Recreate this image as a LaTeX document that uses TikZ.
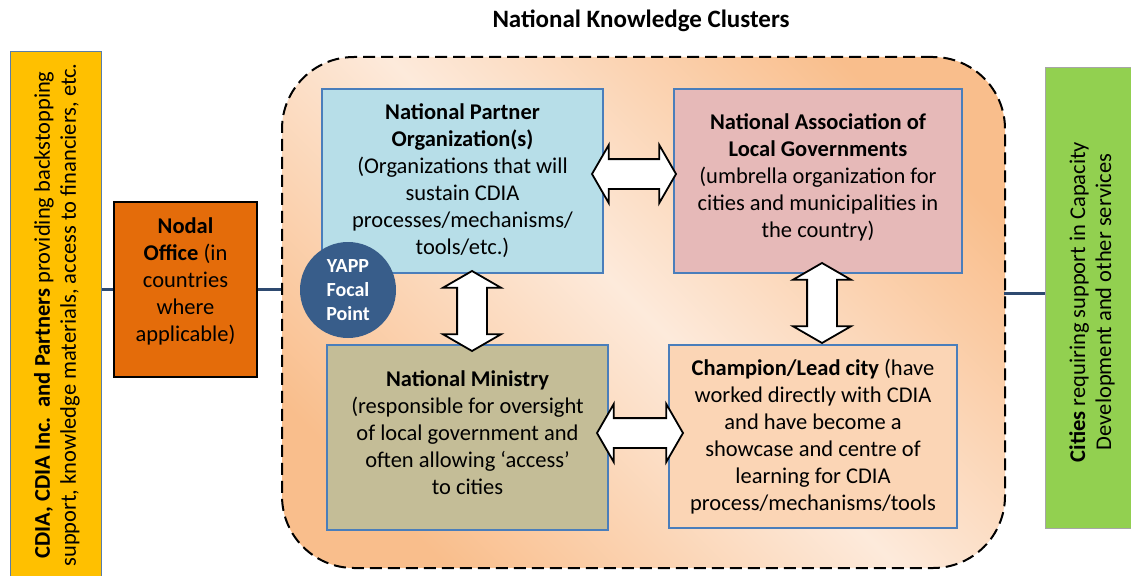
\documentclass[tikz,border=0pt]{standalone}
\usepackage{fontspec}
\setmainfont{Carlito}
\usetikzlibrary{shapes.arrows,calc}
\definecolor{pdk}{HTML}{F9BE8C}
\definecolor{plt}{HTML}{FDEADB}
\definecolor{cyel}{HTML}{FFC000}
\definecolor{cnodal}{HTML}{E46C0A}
\definecolor{cgreen}{HTML}{92D050}
\definecolor{cpartner}{HTML}{B7DEE8}
\definecolor{cassoc}{HTML}{E6B9B8}
\definecolor{cmin}{HTML}{C4BD97}
\definecolor{cchamp}{HTML}{FBD5B5}
\definecolor{cyapp}{HTML}{385D8A}
\definecolor{cline}{HTML}{2E4A70}
\definecolor{cbord}{HTML}{4A7EBB}
\pgfdeclarehorizontalshading{diagpeach}{100bp}{color(0bp)=(pdk);color(24bp)=(pdk);color(50bp)=(plt);color(76bp)=(pdk);color(100bp)=(pdk)}
\tikzset{
  inbox/.style={draw=cbord, line width=1.3pt, align=center, inner sep=0pt,
    font=\fontsize{22.5}{27}\selectfont},
  sidebox/.style={draw=#1, line width=1pt, inner sep=0pt},
  link/.style={draw=cline, line width=3pt},
  dblarrow/.style={double arrow, draw=black, fill=white, line width=1.8pt,
    inner sep=14pt, double arrow head extend=14pt, double arrow tip angle=120},
  sidetext/.style={rotate=90, align=center, font=\fontsize{22.5}{26}\selectfont}
}
\begin{document}
\begin{tikzpicture}[x=1pt,y=-1pt]
\useasboundingbox (0,0) rectangle (1131,575);
% title
\node[font=\fontsize{25}{30}\selectfont\bfseries] (title) at (641,21) {National Knowledge Clusters};
% cluster background
\node[draw=black, line width=2pt, dash pattern=on 12pt off 6pt, rounded corners=72pt,
  shading=diagpeach, shading angle=45, minimum width=723pt, minimum height=511pt,
  inner sep=0pt] (clus) at (643.5,312.5) {};
% side boxes
\node[sidebox={cbord!70!gray}, fill=cyel, minimum width=91pt, minimum height=548pt] (cdia) at (55.5,326) {};
\node[sidetext] (cdiatext) at (57,315) {\textbf{CDIA, CDIA Inc.\ \ and Partners} providing backstopping\\support, knowledge materials, access to financiers, etc.};
\node[sidebox={gray!70}, fill=cgreen, minimum width=105pt, minimum height=460pt] (cities) at (1097.5,298) {};
\node[sidetext] (citiestext) at (1092,302) {\textbf{Cities} requiring support in Capacity\\Development and other services};
% nodal office
\node[draw=black, line width=2pt, fill=cnodal, minimum width=143pt, minimum height=175pt,
  align=center, inner sep=0pt, font=\fontsize{22.5}{27}\selectfont] (nodal) at (185.5,289.5)
  {\textbf{Nodal}\\\textbf{Office} (in\\countries\\where\\applicable)\\[-8pt]};
% links
\draw[link] (nodal.west -| cdia.east) -- (nodal.west);
\draw[link] (nodal.east) -- (nodal.east -| clus.west);
\coordinate (rl) at (1004,293);
\draw[link] (rl) -- (rl -| cities.west);
% inner boxes
\node[inbox, fill=cpartner, minimum width=281pt, minimum height=184pt] (partner) at (462.5,181)
  {\textbf{National Partner}\\\textbf{Organization(s)}\\(Organizations that will\\sustain CDIA\\processes/mechanisms/\\tools/etc.)};
\node[inbox, fill=cassoc, minimum width=288pt, minimum height=184pt] (assoc) at (818,181)
  {\textbf{National Association of}\\\textbf{Local Governments}\\(umbrella organization for\\cities and municipalities in\\the country)\\[-17pt]};
\node[inbox, fill=cmin, minimum width=281pt, minimum height=185pt] (ministry) at (467.5,437.5)
  {\textbf{National Ministry}\\(responsible for oversight\\of local government and\\often allowing ‘access’\\to cities\\[-18pt]};
\node[inbox, fill=cchamp, minimum width=288pt, minimum height=183pt] (champ) at (813,436.5)
  {\textbf{Champion/Lead city} (have\\worked directly with CDIA\\and have become a\\showcase and centre of\\learning for CDIA\\process/mechanisms/tools};
% block arrows
\node[dblarrow, minimum height=84pt] (a1) at (634,174) {};
\node[dblarrow, minimum height=86pt] (a2) at (640,433) {};
\node[dblarrow, minimum height=80pt, shape border rotate=90] (a3) at (472,311) {};
\node[dblarrow, minimum height=80pt, shape border rotate=90] (a4) at (822,303) {};
% YAPP
\node[circle, fill=cyapp, minimum size=96pt, inner sep=0pt, text=white, align=center,
  font=\fontsize{20}{24}\selectfont\bfseries] (yapp) at (348,290) {YAPP\\Focal\\Point};
\end{tikzpicture}
\end{document}
